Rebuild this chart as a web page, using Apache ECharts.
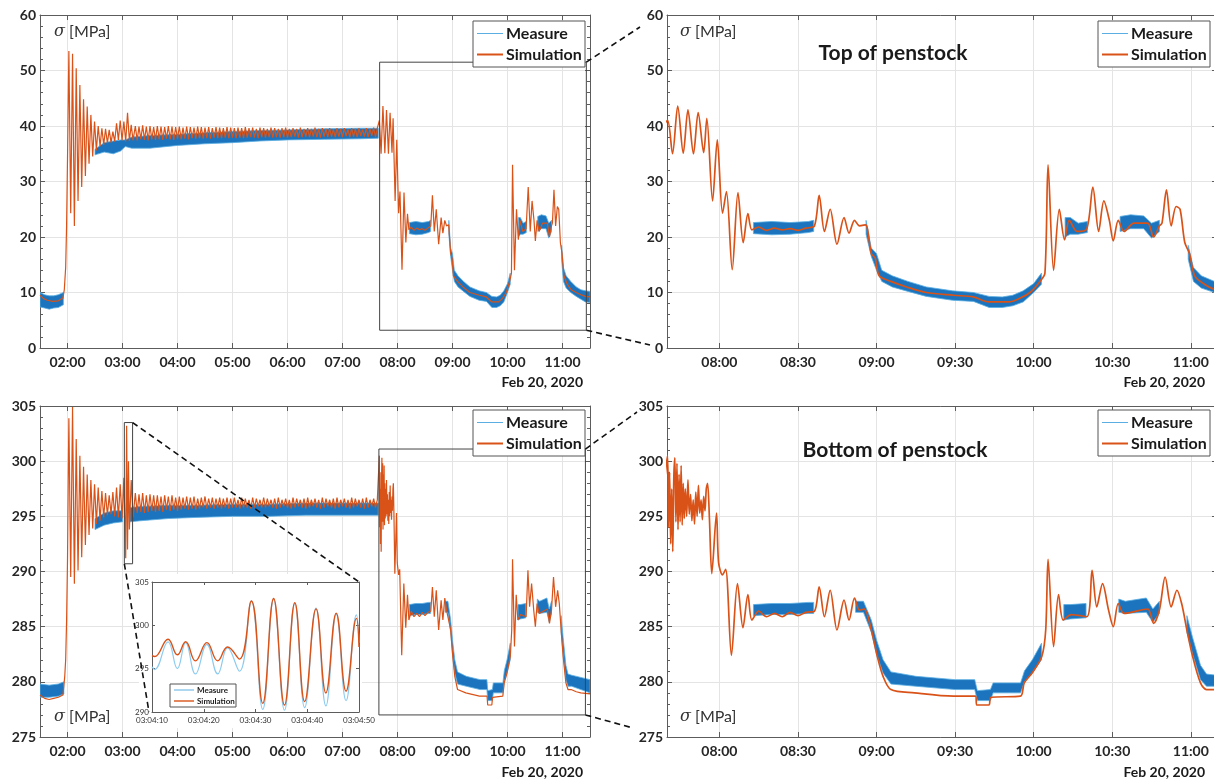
<!DOCTYPE html>
<html>
<head>
<meta charset="utf-8">
<script src="https://cdn.jsdelivr.net/npm/echarts@6/dist/echarts.min.js"></script>
<style>
html, body { margin: 0; padding: 0; background: #fff; }
#chart { width: 1214px; height: 781px; }
</style>
</head>
<body>
<div id="chart"></div>
<script>
// ---- data (time in minutes after 00:00, Feb 20 2020) ----

// top of penstock, simulation
const topRiseT = [90, 94, 98, 104, 110, 115, 116.5, 118, 119, 120, 121, 121.5,
  123.5, 125.5, 127.5, 129.5, 131.5, 133.5, 135.5, 137.5, 139.5, 141.5, 143.5, 145.5,
  147.5, 149.5, 151.5, 153.5, 155.5, 157.5, 159.5, 161.5, 163.5, 165.5, 167.5, 169.5,
  171.5, 173.5, 175.5, 177.5, 179.5, 181.5, 183.5, 185.5, 187.5, 189.5, 191.5];
const topRiseV = [9.5, 8.9, 8.6, 8.4, 8.5, 9.0, 10.5, 14.5, 22, 34, 47, 53.5,
  24.3, 53.0, 22.0, 50.4, 26.5, 47.4, 29.0, 44.8, 31.0, 43.5, 33.2, 42.0,
  34.5, 40.8, 35.6, 40.0, 36.3, 39.6, 36.6, 39.5, 36.9, 39.3, 37.0, 39.0,
  37.2, 40.5, 37.5, 41.0, 37.4, 40.8, 37.2, 42.4, 37.3, 40.2, 37.4];

// steady running 03:14 - 07:38 (both gauges)
const steadyT = [194, 196, 198, 200, 202, 204, 206, 208, 210, 212,
  214, 216, 218, 220, 222, 224, 226, 228, 230, 232,
  234, 236, 238, 240, 242, 244, 246, 248, 250, 252,
  254, 256, 258, 260, 262, 264, 266, 268, 270, 272,
  274, 276, 278, 280, 282, 284, 286, 288, 290, 292,
  294, 296, 298, 300, 302, 304, 306, 308, 310, 312,
  314, 316, 318, 320, 322, 324, 326, 328, 330, 332,
  334, 336, 338, 340, 342, 344, 346, 348, 350, 352,
  354, 356, 358, 360, 362, 364, 366, 368, 370, 372,
  374, 376, 378, 380, 382, 384, 386, 388, 390, 392,
  394, 396, 398, 400, 402, 404, 406, 408, 410, 412,
  414, 416, 418, 420, 422, 424, 426, 428, 430, 432,
  434, 436, 438, 440, 442, 444, 446, 448, 450, 452,
  454, 456, 458];
const topSteadyV = [40.0, 37.4, 39.9, 37.6, 40.1, 37.5, 39.9, 37.4, 40.0, 37.6,
  39.8, 37.5, 40.0, 37.6, 39.9, 37.5, 39.8, 37.7, 40.0, 37.6,
  39.9, 37.5, 39.8, 37.7, 39.9, 37.6, 39.7, 37.7, 39.9, 37.6,
  39.8, 37.8, 39.7, 37.7, 39.9, 37.8, 39.8, 37.7, 39.7, 37.8,
  39.8, 37.7, 39.6, 37.9, 39.8, 37.8, 39.7, 37.8, 39.6, 37.9,
  39.8, 37.8, 39.7, 37.9, 39.6, 37.8, 39.7, 37.9, 39.6, 37.8,
  39.8, 37.9, 39.6, 38.0, 39.7, 37.9, 39.5, 37.8, 39.7, 38.0,
  39.6, 37.9, 39.5, 38.0, 39.7, 37.9, 39.6, 38.0, 39.5, 37.9,
  39.6, 38.0, 39.7, 37.9, 39.5, 38.0, 39.6, 38.1, 39.5, 37.9,
  39.7, 38.0, 39.5, 38.1, 39.6, 38.0, 39.5, 38.1, 39.7, 38.0,
  39.5, 37.9, 39.6, 38.1, 39.5, 38.0, 39.6, 38.1, 39.4, 38.0,
  39.6, 38.1, 39.5, 38.0, 39.6, 38.2, 39.4, 38.0, 39.6, 38.1,
  39.5, 38.0, 39.6, 38.2, 39.4, 38.1, 39.6, 38.0, 39.5, 38.2,
  39.7, 38.0, 39.6];

const topLateT = [460.2, 462.1, 464.1, 466.2, 468.0, 470.1, 471.9, 474.0, 475.2, 477.4,
  479.2, 481.2, 482.7, 484.9, 487.1, 489.1, 490.9, 492.4, 495, 498,
  501, 504, 507, 510, 513, 516.3, 518.1, 520.1, 522.3, 524.9,
  527.6, 529.5, 531.6, 533.5, 535.8, 538.0, 539.5, 541.0, 545.5, 551.5,
  559.0, 569.4, 576.9, 582.9, 590.4, 594.9, 598.6, 602.4, 604.3, 605.5,
  607.6, 609.8, 611.8, 613.6, 616.6, 620.3, 622.6, 624.8, 626.8, 628.9,
  630.4, 632.3, 634.5, 638.3, 643.5, 645.8, 648.0, 649.0, 650.7, 652.5,
  654.4, 655.9, 657.7, 659.5, 661.5, 665.2, 669.4, 675, 680, 685, 690];
const topLateV = [41.0, 35.0, 43.6, 35.1, 42.9, 35.0, 42.4, 35.2, 41.4, 26.5,
  37.5, 24.3, 28.2, 14.1, 28.0, 19.0, 24.2, 21.3, 21.8, 21.2,
  21.6, 21.3, 21.5, 21.2, 21.6, 22.0, 27.5, 21.0, 25.0, 18.7,
  23.5, 20.7, 23.0, 22.0, 22.2, 17.0, 16.2, 13.0, 12.0, 11.0,
  10.0, 9.5, 9.2, 8.3, 8.3, 9.0, 10.0, 12.0, 13.5, 33.0,
  14.0, 25.0, 19.5, 23.0, 21.0, 21.5, 29.0, 21.0, 26.5, 23.0,
  19.3, 23.0, 21.0, 22.5, 22.5, 20.0, 22.0, 22.5, 28.5, 22.0,
  25.5, 25.0, 19.0, 17.0, 13.0, 11.5, 10.5, 10.0, 9.6, 9.3, 9.2];

// top of penstock, measure (noise band: low / high edge, null = hidden behind the simulation)
const topMeasT = [90, 95, 100, 105, 110, 115.5, 117, 150, 160, 170, 178, 183,
  190, 210, 240, 270, 300, 330, 360, 400, 440, 459, 461,
  493, 500, 507, 514, 516, 517,
  536, 538, 540, 542, 546, 552, 559, 569, 577, 583, 588, 592, 596, 600, 603, 604.5,
  612, 614, 617, 620.5, 621.5, 633, 637, 642, 645, 648, 649,
  659, 661, 664, 669, 675, 680, 685, 690];
const topMeasLo = [7.4, 7.2, 7.0, 7.2, 7.3, 7.8, null, 34.8, 35.3, 35.0, 35.5, 36.3,
  36.0, 36.0, 36.5, 36.8, 37.0, 37.3, 37.5, 37.6, 37.7, 37.8, null,
  20.6, 20.4, 20.5, 20.8, 21.0, null,
  20.5, 16.5, 14.0, 12.0, 11.0, 10.2, 9.3, 8.6, 8.4, 7.3, 7.3, 7.6, 8.3, 10.0, 11.5, null,
  20.0, 20.5, 20.5, 20.8, null, 21.0, 21.5, 21.5, 19.8, 21.0, null,
  16.0, 12.0, 10.8, 10.0, 9.3, 8.8, 8.3, 8.2];
const topMeasHi = [10.0, 9.6, 9.4, 9.4, 9.6, 10.0, null, 35.8, 37.0, 37.3, 37.5, 37.5,
  38.0, 38.3, 38.5, 38.8, 39.0, 39.2, 39.3, 39.5, 39.6, 39.6, null,
  22.6, 22.8, 22.6, 22.8, 23.0, null,
  23.0, 18.0, 17.0, 14.0, 13.0, 12.0, 11.0, 10.3, 10.0, 9.3, 9.2, 9.5, 10.3, 11.6, 13.5, null,
  23.5, 23.5, 22.5, 22.8, null, 23.7, 24.0, 23.8, 22.5, 23.0, null,
  18.5, 14.5, 13.0, 12.0, 11.0, 10.5, 10.3, 10.2];

// bottom of penstock, simulation
const botRiseT = [90, 95, 100, 105, 110, 115, 117, 118, 119, 120, 121, 121.5,
  123.5, 125.5, 127.5, 129.5, 131.5, 133.5, 135.5, 137.5, 139.5, 141.5,
  143.5, 145.5, 147.5, 149.5, 151.5, 153.5, 155.5, 157.5, 159.5, 161.5,
  163.5, 165.5, 167.5, 169.5, 171.5, 173.5, 175.5, 177.5, 179.5, 181.5,
  183.5, 184.5, 185.5, 186.5, 187.5, 189.5, 191.5];
const botRiseV = [278.8, 278.5, 278.4, 278.5, 278.6, 278.8, 280.5, 282.0, 285.5, 291.0, 300.0, 303.9,
  289.5, 304.9, 288.9, 302.0, 290.1, 300.5, 291.3, 299.5, 292.4, 298.8,
  293.3, 298.3, 293.9, 297.9, 294.3, 297.6, 294.6, 297.3, 294.9, 297.1,
  295.1, 296.9, 295.2, 297.2, 295.0, 297.6, 294.9, 297.9, 294.8, 298.5,
  291.2, 303.2, 292.0, 300.0, 293.8, 298.3, 294.9];
const botSteadyV = [297.1, 295.3, 297.0, 295.4, 297.1, 295.3, 296.9, 295.4, 297.0, 295.5,
  296.9, 295.4, 296.9, 295.5, 296.8, 295.4, 296.9, 295.6, 296.8, 295.5,
  296.9, 295.6, 296.7, 295.5, 296.8, 295.6, 296.7, 295.7, 296.8, 295.6,
  296.7, 295.7, 296.8, 295.6, 296.6, 295.7, 296.7, 295.8, 296.8, 295.7,
  296.6, 295.8, 296.7, 295.7, 296.6, 295.8, 296.7, 295.7, 296.6, 295.8,
  296.7, 295.7, 296.6, 295.8, 296.7, 295.8, 296.5, 295.7, 296.7, 295.8,
  296.6, 295.8, 296.5, 295.7, 296.7, 295.8, 296.6, 295.9, 296.5, 295.8,
  296.7, 295.8, 296.6, 295.9, 296.5, 295.8, 296.6, 295.7, 296.7, 295.8,
  296.5, 295.9, 296.6, 295.8, 296.5, 295.7, 296.7, 295.8, 296.6, 295.9,
  296.5, 295.8, 296.6, 295.7, 296.7, 295.8, 296.5, 295.9, 296.6, 295.8,
  296.5, 295.7, 296.7, 295.8, 296.6, 295.9, 296.5, 295.8, 296.6, 295.7,
  296.7, 295.8, 296.5, 295.9, 296.6, 295.8, 296.5, 295.7, 296.7, 295.8,
  296.6, 295.9, 296.5, 295.8, 296.6, 295.7, 296.7, 295.8, 296.5, 295.9,
  296.6, 295.8, 296.5];
const botLateT = [460.2, 460.6, 461.0, 461.4, 461.8, 462.2, 462.6, 463.0, 463.4, 463.8,
  464.2, 464.6, 465.0, 465.4, 465.8, 466.2, 466.6, 467.0, 467.5, 468.0,
  468.5, 469.0, 469.5, 470.0, 470.5, 471.0, 471.5, 472.0, 472.5, 473.0,
  473.5, 474.0, 474.5, 475.0, 475.5, 476.2,
  477.1, 478.9, 479.7, 481.2, 482.4, 484.6, 486.9, 489.0,
  490.9, 492.4, 495, 498, 501, 504, 507, 510, 513, 516.3,
  518.1, 520.1, 522.3, 524.9, 527.6, 529.5, 531.6, 533.5, 535.3, 538.0,
  540.3, 542.5, 545.5, 554.5, 569.4, 577.7, 578.4, 582.9, 583.7, 594.9,
  596.4, 599.4, 603.1, 604.6, 605.5, 607.6, 609.5, 611.3, 614.3, 620.3,
  622.3, 624.1, 626.3, 628.6, 630.4, 632.3, 634.5, 643.5, 645.8, 648.0,
  650.2, 652.5, 654.7, 656.5, 658.5, 660.7, 663.7, 666.0, 669.4, 675, 680, 690];
const botLateV = [300.5, 294.0, 299.0, 292.5, 297.5, 291.8, 298.5, 300.3, 294.5, 299.8,
  293.8, 298.8, 294.5, 299.6, 294.2, 298.0, 294.8, 297.5, 295.0, 298.3,
  295.2, 297.0, 294.6, 296.5, 294.3, 297.2, 295.0, 297.8, 295.3, 296.5,
  294.7, 296.8, 295.5, 297.5, 298.0, 294.8,
  289.8, 295.3, 290.8, 289.7, 290.2, 282.4, 288.9, 284.9,
  287.9, 285.6, 286.4, 285.9, 286.2, 285.9, 286.3, 286.0, 286.3, 286.4,
  288.6, 285.9, 288.3, 284.7, 287.4, 285.6, 287.6, 286.5, 286.6, 284.7,
  282.3, 280.5, 279.3, 279.0, 278.7, 278.7, 277.9, 277.9, 278.6, 278.7,
  279.9, 280.8, 282.3, 284.7, 291.1, 283.2, 287.9, 285.6, 286.1, 285.9,
  290.1, 286.8, 288.9, 286.5, 285.0, 287.1, 286.2, 286.6, 285.3, 286.5,
  289.5, 286.8, 288.3, 287.1, 284.7, 282.3, 279.9, 279.3, 279.3, 279.1, 279.0, 278.9];

// bottom of penstock, measure band
const botMeasT = [90, 100, 110, 116, 117, 150, 160, 170, 180, 182,
  188, 200, 230, 260, 300, 340, 380, 420, 459, 461,
  493, 500, 507, 514, 516, 517,
  532, 535, 538, 540, 542.5, 545.5, 555, 570, 577.5, 578.5, 583.5, 584.5, 595, 596.5, 599.5, 603, 604.5,
  611.5, 614, 620, 621.5, 632.5, 635, 643, 645.5, 648, 649,
  658.5, 660.7, 663.7, 666, 670, 680, 690];
const botMeasLo = [278.6, 278.6, 278.7, 278.9, null, 293.8, 294.2, 294.4, 294.5, null,
  294.5, 294.6, 294.8, 294.9, 295.0, 295.0, 295.1, 295.1, 295.1, null,
  286.0, 286.1, 286.1, 286.2, 286.2, null,
  286.3, 286.3, 284.5, 282.5, 280.8, 279.8, 279.6, 279.3, 279.3, 278.3, 278.3, 279.0, 279.0, 280.0, 280.8, 282.0, null,
  285.6, 285.7, 285.8, null, 286.3, 286.2, 286.3, 285.4, 286.2, null,
  284.5, 282.5, 280.2, 279.6, 279.6, 279.3, 279.0];
const botMeasHi = [279.8, 279.7, 279.8, 280.0, null, 294.8, 295.3, 295.5, 295.5, null,
  295.8, 295.9, 296.0, 296.0, 296.1, 296.1, 296.2, 296.2, 296.2, null,
  287.0, 287.1, 287.1, 287.2, 287.2, null,
  287.3, 287.3, 285.6, 283.8, 282.0, 280.9, 280.5, 280.2, 280.2, 279.2, 279.3, 279.9, 279.9, 281.0, 282.0, 283.5, null,
  287.0, 287.0, 287.1, null, 287.5, 287.3, 287.6, 286.6, 287.3, null,
  286.0, 284.0, 281.5, 280.7, 280.6, 280.4, 280.2];

// inset: seconds after 03:04:10
const insetT = [0, 0.5, 3.1, 4.9, 6.5, 8.4, 10.6, 12.7, 14.6, 16.9, 19.2,
  21.4, 23.5, 25.6, 27.6, 29.5, 31.7, 33.6, 35.6, 37.5, 39.5, 40];
const insetSim = [296.5, 296.4, 298.4, 296.6, 298.1, 295.9, 298.0, 295.9, 297.5, 296.1, 302.8,
  291.0, 303.1, 290.8, 302.6, 291.2, 301.9, 292.2, 301.4, 292.4, 300.8, 297.5];
const insetMeas = [295.2, 294.9, 298.1, 295.0, 298.0, 294.4, 297.8, 294.4, 297.4, 294.7, 302.8,
  290.3, 303.0, 290.2, 302.5, 290.5, 302.0, 290.7, 301.3, 291.3, 301.2, 298.0];

const hourTicks = [120, 180, 240, 300, 360, 420, 480, 540, 600, 660];
const halfHourTicks = [480, 510, 540, 570, 600, 630, 660];

// zoom frames in data units [x0, yTop, x1, yBottom]
const topZoomBox = [460.5, 51.5, 686, 3.2];
const botZoomBox = [459.7, 301.1, 685, 277.0];
const insetZoomBox = [182, 303.5, 191, 290.7];

// ---- style ----
const FONT = 'Lato, "Open Sans", sans-serif';
const BLUE = '#1b74bd';
const LIGHTBLUE = '#5aaee3';
const ORANGE = '#d95319';
const FRAME = '#5c5c5c';
const GRIDC = '#e4e4e4';
const TXT = '#262626';

const boxes = [
  { left: 40, top: 15, width: 550, height: 333 },
  { left: 667, top: 15, width: 550, height: 333 },
  { left: 40, top: 406, width: 550, height: 331 },
  { left: 667, top: 406, width: 550, height: 331 },
  { left: 152, top: 582, width: 207, height: 130 }
];

function hhmm(v) {
  const h = Math.floor(v / 60), m = Math.round(v % 60);
  return (h < 10 ? '0' : '') + h + ':' + (m < 10 ? '0' : '') + m;
}

function pairs(t, v) {
  return t.map((x, i) => [x, v[i]]);
}

// contiguous runs of non-null samples -> [[first, last], ...]
function runsOf(lo) {
  const runs = [];
  let start = -1;
  lo.forEach((v, i) => {
    if (v != null && start < 0) start = i;
    if (v == null && start >= 0) { runs.push([start, i - 1]); start = -1; }
  });
  if (start >= 0) runs.push([start, lo.length - 1]);
  return runs;
}

function xPair(g, min, max, ticks) {
  const common = { type: 'value', gridIndex: g, min: min, max: max };
  return [
    Object.assign({}, common, {
      position: 'bottom',
      axisLine: { show: true, onZero: false, lineStyle: { color: FRAME, width: 1 } },
      axisTick: { show: true, inside: true, length: 5, customValues: ticks, lineStyle: { color: FRAME } },
      axisLabel: { customValues: ticks, formatter: hhmm, color: TXT, fontFamily: FONT, fontWeight: 'bold', fontSize: 14, margin: 7 },
      splitLine: { show: true, lineStyle: { color: GRIDC } }
    }),
    Object.assign({}, common, {
      position: 'top',
      axisLine: { show: true, onZero: false, lineStyle: { color: FRAME, width: 1 } },
      axisTick: { show: true, inside: true, length: 5, customValues: ticks, lineStyle: { color: FRAME } },
      axisLabel: { show: false },
      splitLine: { show: false }
    })
  ];
}

function yPair(g, min, max, interval) {
  const common = { type: 'value', gridIndex: g, min: min, max: max, interval: interval };
  return [
    Object.assign({}, common, {
      position: 'left',
      axisLine: { show: true, onZero: false, lineStyle: { color: FRAME } },
      axisTick: { show: true, inside: true, length: 5, lineStyle: { color: FRAME } },
      minorTick: { show: true, splitNumber: 5, length: 3, lineStyle: { color: FRAME } },
      axisLabel: { color: TXT, fontFamily: FONT, fontWeight: 'bold', fontSize: 14, margin: 4 },
      splitLine: { show: true, lineStyle: { color: GRIDC } }
    }),
    Object.assign({}, common, {
      position: 'right',
      axisLine: { show: true, onZero: false, lineStyle: { color: FRAME } },
      axisTick: { show: true, inside: true, length: 5, lineStyle: { color: FRAME } },
      minorTick: { show: true, splitNumber: 5, length: 3, lineStyle: { color: FRAME } },
      axisLabel: { show: false },
      splitLine: { show: false }
    })
  ];
}

// measure noise band drawn as filled polygons between the low and high edge
function bandSeries(g, t, lo, hi) {
  const runs = runsOf(lo);
  return {
    name: 'Measure', type: 'custom', xAxisIndex: 2 * g, yAxisIndex: 2 * g,
    z: 2, silent: true, clip: true,
    data: runs.map(r => [t[r[0]], lo[r[0]]]),
    encode: { x: 0, y: 1 },
    renderItem: function (params, api) {
      const r = runs[params.dataIndex];
      const pts = [];
      for (let i = r[0]; i <= r[1]; i++) pts.push(api.coord([t[i], hi[i]]));
      for (let i = r[1]; i >= r[0]; i--) pts.push(api.coord([t[i], lo[i]]));
      return {
        type: 'polygon',
        shape: { points: pts },
        style: { fill: BLUE, stroke: LIGHTBLUE, lineWidth: 0.8 }
      };
    }
  };
}

function simSeries(g, t, v, lw, smooth) {
  return {
    name: 'Simulation', type: 'line', xAxisIndex: 2 * g, yAxisIndex: 2 * g,
    symbol: 'none', z: 3, data: pairs(t, v), smooth: smooth,
    lineStyle: { color: ORANGE, width: lw }
  };
}

const topSimT = topRiseT.concat(steadyT, topLateT);
const topSimV = topRiseV.concat(topSteadyV, topLateV);
const botSimT = botRiseT.concat(steadyT, botLateT);
const botSimV = botRiseV.concat(botSteadyV, botLateV);

const chart = echarts.init(document.getElementById('chart'));

const xAxes = [].concat(
  xPair(0, 90, 690, hourTicks),
  xPair(1, 460, 670, halfHourTicks),
  xPair(2, 90, 690, hourTicks),
  xPair(3, 460, 670, halfHourTicks)
);
const yAxes = [].concat(
  yPair(0, 0, 60, 10),
  yPair(1, 0, 60, 10),
  yPair(2, 275, 305, 5),
  yPair(3, 275, 305, 5)
);

// inset axes
xAxes.push({
  type: 'value', gridIndex: 4, min: 0, max: 40, interval: 10, position: 'bottom', z: 51,
  axisLine: { show: true, onZero: false, lineStyle: { color: FRAME } },
  axisTick: { show: true, inside: true, length: 3, lineStyle: { color: FRAME } },
  axisLabel: { formatter: v => '03:04:' + (10 + v), color: '#333', fontFamily: FONT, fontSize: 8, margin: 4 },
  splitLine: { show: false }
}, {
  type: 'value', gridIndex: 4, min: 0, max: 40, interval: 10, position: 'top', z: 51,
  axisLine: { show: true, onZero: false, lineStyle: { color: FRAME } },
  axisTick: { show: true, inside: true, length: 3, lineStyle: { color: FRAME } },
  axisLabel: { show: false }, splitLine: { show: false }
});
yAxes.push({
  type: 'value', gridIndex: 4, min: 290, max: 305, interval: 5, position: 'left', z: 51,
  axisLine: { show: true, onZero: false, lineStyle: { color: FRAME } },
  axisTick: { show: true, inside: true, length: 3, lineStyle: { color: FRAME } },
  axisLabel: { color: '#333', fontFamily: FONT, fontSize: 8, margin: 3 },
  splitLine: { show: false }
}, {
  type: 'value', gridIndex: 4, min: 290, max: 305, interval: 5, position: 'right', z: 51,
  axisLine: { show: true, onZero: false, lineStyle: { color: FRAME } },
  axisTick: { show: true, inside: true, length: 3, lineStyle: { color: FRAME } },
  axisLabel: { show: false }, splitLine: { show: false }
});

const series = [
  bandSeries(0, topMeasT, topMeasLo, topMeasHi),
  simSeries(0, topSimT, topSimV, 1.2, false),
  bandSeries(1, topMeasT, topMeasLo, topMeasHi),
  simSeries(1, topSimT, topSimV, 1.7, 0.3),
  bandSeries(2, botMeasT, botMeasLo, botMeasHi),
  simSeries(2, botSimT, botSimV, 1.2, false),
  bandSeries(3, botMeasT, botMeasLo, botMeasHi),
  simSeries(3, botSimT, botSimV, 1.7, 0.3),
  { name: 'Measure', type: 'line', xAxisIndex: 8, yAxisIndex: 8, z: 52, symbol: 'none', smooth: 0.45,
    data: pairs(insetT, insetMeas), lineStyle: { color: '#8ccbef', width: 1.2 } },
  { name: 'Simulation', type: 'line', xAxisIndex: 8, yAxisIndex: 8, z: 53, symbol: 'none', smooth: 0.45,
    data: pairs(insetT, insetSim), lineStyle: { color: ORANGE, width: 1.4 } }
];

chart.setOption({
  animation: false,
  backgroundColor: '#fff',
  grid: boxes.map(b => ({ left: b.left, top: b.top, width: b.width, height: b.height, containLabel: false, outerBoundsMode: 'none', show: false })),
  xAxis: xAxes,
  yAxis: yAxes,
  series: series
});

// ---- annotations: legends, texts, zoom frames, dashed connectors ----
function px(g, pt) {
  return chart.convertToPixel({ xAxisIndex: 2 * g, yAxisIndex: 2 * g }, pt);
}
function frameRect(g, b, z) {
  const a = px(g, [b[0], b[1]]), c = px(g, [b[2], b[3]]);
  return {
    type: 'rect', z: z, silent: true,
    shape: { x: a[0], y: a[1], width: c[0] - a[0], height: c[1] - a[1] },
    style: { fill: 'none', stroke: '#444', lineWidth: 1 }
  };
}
function dashLine(p, q) {
  return {
    type: 'line', z: 60, silent: true,
    shape: { x1: p[0], y1: p[1], x2: q[0], y2: q[1] },
    style: { stroke: '#111', lineWidth: 1.6, lineDash: [6, 4] }
  };
}
function sigmaLabel(x, y) {
  return {
    type: 'text', x: x, y: y, z: 10, silent: true,
    style: {
      text: '{s|σ} [MPa]', fill: '#333', font: '16px ' + FONT, verticalAlign: 'middle',
      rich: { s: { fontFamily: '"DejaVu Serif", serif', fontStyle: 'italic', fontSize: 16, fill: '#333' } }
    }
  };
}
function plainText(x, y, text, font, align, z) {
  return {
    type: 'text', x: x, y: y, z: z || 10, silent: true,
    style: { text: text, fill: '#1a1a1a', font: font, align: align, verticalAlign: 'middle' }
  };
}
// legend box: x, y, width, height, font size, sample length, row gap, z
function legendBox(x, y, w, h, fs, len, gap, z) {
  const r1 = y + h / 2 - gap / 2, r2 = y + h / 2 + gap / 2;
  const tx = x + 4 + len + 3;
  return [
    { type: 'rect', z: z, silent: true, shape: { x: x, y: y, width: w, height: h },
      style: { fill: '#fff', stroke: '#555', lineWidth: 1 } },
    { type: 'line', z: z + 1, silent: true, shape: { x1: x + 4, y1: r1, x2: x + 4 + len, y2: r1 },
      style: { stroke: LIGHTBLUE, lineWidth: 1 } },
    { type: 'line', z: z + 1, silent: true, shape: { x1: x + 4, y1: r2, x2: x + 4 + len, y2: r2 },
      style: { stroke: ORANGE, lineWidth: fs > 10 ? 2 : 1.4 } },
    plainText(tx, r1, 'Measure', 'bold ' + fs + 'px ' + FONT, 'left', z + 1),
    plainText(tx, r2, 'Simulation', 'bold ' + fs + 'px ' + FONT, 'left', z + 1)
  ];
}

const tb = [px(0, [topZoomBox[0], topZoomBox[1]]), px(0, [topZoomBox[2], topZoomBox[3]])];
const bb = [px(2, [botZoomBox[0], botZoomBox[1]]), px(2, [botZoomBox[2], botZoomBox[3]])];
const ib = [px(2, [insetZoomBox[0], insetZoomBox[1]]), px(2, [insetZoomBox[2], insetZoomBox[3]])];
const ins = boxes[4];

const graphics = [
  plainText(893, 53, 'Top of penstock', 'bold 21px ' + FONT, 'center'),
  plainText(895, 450, 'Bottom of penstock', 'bold 21px ' + FONT, 'center'),
  plainText(583, 382, 'Feb 20, 2020', 'bold 14px ' + FONT, 'right'),
  plainText(1205, 382, 'Feb 20, 2020', 'bold 14px ' + FONT, 'right'),
  plainText(583, 772, 'Feb 20, 2020', 'bold 14px ' + FONT, 'right'),
  plainText(1205, 772, 'Feb 20, 2020', 'bold 14px ' + FONT, 'right'),
  sigmaLabel(54, 32),
  sigmaLabel(680, 32),
  sigmaLabel(54, 717),
  sigmaLabel(680, 717),
  frameRect(0, topZoomBox, 5),
  frameRect(2, botZoomBox, 5),
  frameRect(2, insetZoomBox, 5),
  // white card under the inset
  {
    type: 'rect', z: 50, silent: true,
    shape: { x: ins.left - 13, y: ins.top - 8, width: ins.width + 16, height: ins.height + 24 },
    style: { fill: '#fff', stroke: 'none' }
  },
  dashLine([tb[1][0], tb[0][1]], [boxes[1].left - 27, boxes[1].top + 12]),
  dashLine([tb[1][0], tb[1][1]], [boxes[1].left - 17, boxes[1].top + boxes[1].height - 3]),
  dashLine([bb[1][0], bb[0][1]], [boxes[3].left - 30, boxes[3].top + 6]),
  dashLine([bb[1][0], bb[1][1]], [boxes[3].left - 34, boxes[3].top + boxes[3].height - 9]),
  dashLine([ib[1][0], ib[0][1]], [ins.left + ins.width, ins.top]),
  dashLine([ib[0][0], ib[1][1]], [ins.left - 3, ins.top + ins.height])
].concat(
  legendBox(473, 21, 112, 46, 16, 26, 21, 20),
  legendBox(1098, 21, 112, 46, 16, 26, 21, 20),
  legendBox(473, 410, 112, 46, 16, 26, 21, 20),
  legendBox(1098, 410, 112, 46, 16, 26, 21, 20),
  legendBox(170, 684, 66, 23, 8, 20, 11, 62)
);

chart.setOption({ graphic: graphics });
</script>
</body>
</html>
